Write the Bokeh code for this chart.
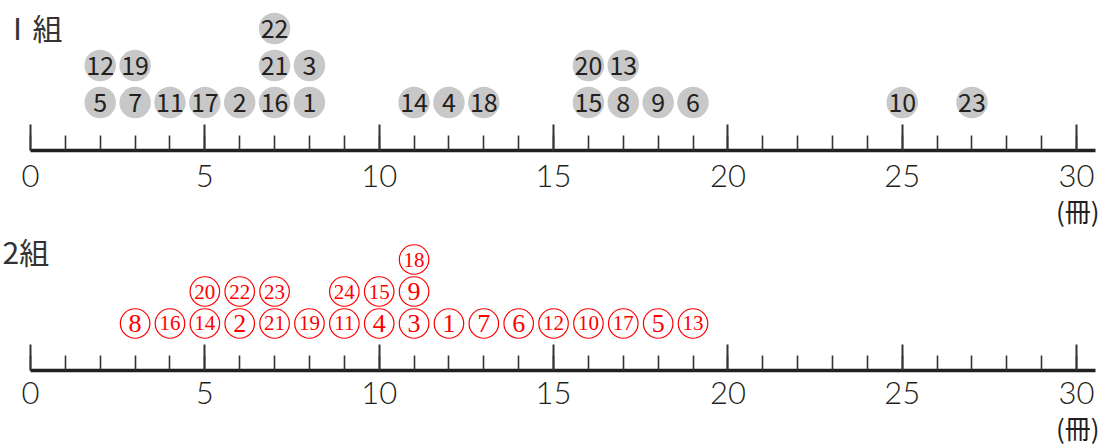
from bokeh.plotting import figure
from bokeh.models import (ColumnDataSource, Range1d, SingleIntervalTicker, Label, Title)
from bokeh.layouts import column
from bokeh.core.properties import value
from bokeh.embed import file_html
from bokeh.resources import INLINE

# ---- data: books read by each student (student number -> value) ----
class1_students = list(range(1, 24))
class1_books = [8, 6, 8, 12, 2, 19, 3, 17, 18, 25, 4, 2, 17, 11, 16, 7, 5, 13, 3, 16, 7, 7, 27]

class2_students = list(range(1, 25))
class2_books = [12, 6, 11, 10, 18, 14, 13, 3, 11, 16, 9, 15, 19, 5, 10, 4, 17, 11, 8, 5, 7, 6, 7, 9]

tick_values = [0, 5, 10, 15, 20, 25, 30]
group_labels = ["Ⅰ組", "2組"]
unit_label = "(冊)"

JP = "Noto Sans CJK JP"
TICK_FONT = "Lato Light"


def stack(students, books, big, small):
    counts = {}
    xs, ys, labels, sizes = [], [], [], []
    for s, b in sorted(zip(students, books)):
        counts[b] = counts.get(b, 0) + 1
        xs.append(b)
        ys.append(counts[b])
        labels.append(str(s))
        sizes.append(big if s < 10 else small)
    return dict(x=xs, y=ys, label=labels, fs=sizes)


def style_axis(p, standoff):
    ax = p.xaxis[0]
    ax.ticker = SingleIntervalTicker(interval=5, num_minor_ticks=5)
    ax.bounds = (0, 30.55)
    ax.major_tick_in = 26
    ax.major_tick_out = 0
    ax.minor_tick_in = 15
    ax.minor_tick_out = 0
    ax.axis_line_width = 3.3
    ax.axis_line_color = "#231f20"
    ax.major_tick_line_width = 2
    ax.major_tick_line_color = "#333333"
    ax.minor_tick_line_width = 1.6
    ax.minor_tick_line_color = "#333333"
    ax.major_label_text_font = TICK_FONT
    ax.major_label_text_font_size = "31px"
    ax.major_label_text_color = "#231f20"
    ax.major_label_standoff = standoff
    t = Title(text=unit_label, align="right", text_font=JP, text_font_size="26px",
              text_color="#231f20", text_font_style="normal", standoff=0, offset=2)
    p.add_layout(t, "below")


def make_fig(frame_h, y0, y1, bottom):
    p = figure(width=1101, frame_width=1101, frame_height=frame_h,
               x_range=Range1d(-0.8603, 30.714), y_range=Range1d(y0, y1),
               output_backend="svg", toolbar_location=None,
               min_border_left=0, min_border_right=0, min_border_top=0,
               min_border_bottom=bottom, y_axis_location=None)
    p.outline_line_color = None
    p.xgrid.visible = False
    p.ygrid.visible = False
    p.background_fill_color = "white"
    p.border_fill_color = "white"
    return p


# ---- panel 1 ----
p1 = make_fig(150, -0.297, 3.757, 74)
s1 = ColumnDataSource(stack(class1_students, class1_books, "25px", "25px"))
p1.scatter(x="x", y="y", source=s1, size=31.5, marker="circle",
           fill_color="#c8c8c8", line_color=None)
p1.text(x="x", y="y", text="label", source=s1, text_align="center",
        text_baseline="middle", text_font=value(JP), text_font_size="fs",
        text_color="#231f20")
p1.add_layout(Label(x=2, y=124, x_units="screen", y_units="screen", text=group_labels[0],
                    text_font=JP, text_font_size="30px", text_color="#333333",
                    text_baseline="middle"))
style_axis(p1, 14)

# ---- panel 2 ----
p2 = make_fig(142, -0.469, 3.969, 79)
s2 = ColumnDataSource(stack(class2_students, class2_books, "26px", "21px"))
p2.scatter(x="x", y="y", source=s2, size=29.5, marker="circle",
           fill_color="white", line_color="#ff0000", line_width=1.2)
p2.text(x="x", y="y", text="label", source=s2, text_align="center",
        text_baseline="middle", text_font=value("Liberation Serif"), text_font_size="fs",
        text_color="#ff0000")
p2.add_layout(Label(x=2, y=120, x_units="screen", y_units="screen", text=group_labels[1],
                    text_font=JP, text_font_size="30px", text_color="#333333",
                    text_baseline="middle"))
style_axis(p2, 11)

layout = column(p1, p2, spacing=0)
open("out.html", "w").write(file_html(layout, INLINE))
